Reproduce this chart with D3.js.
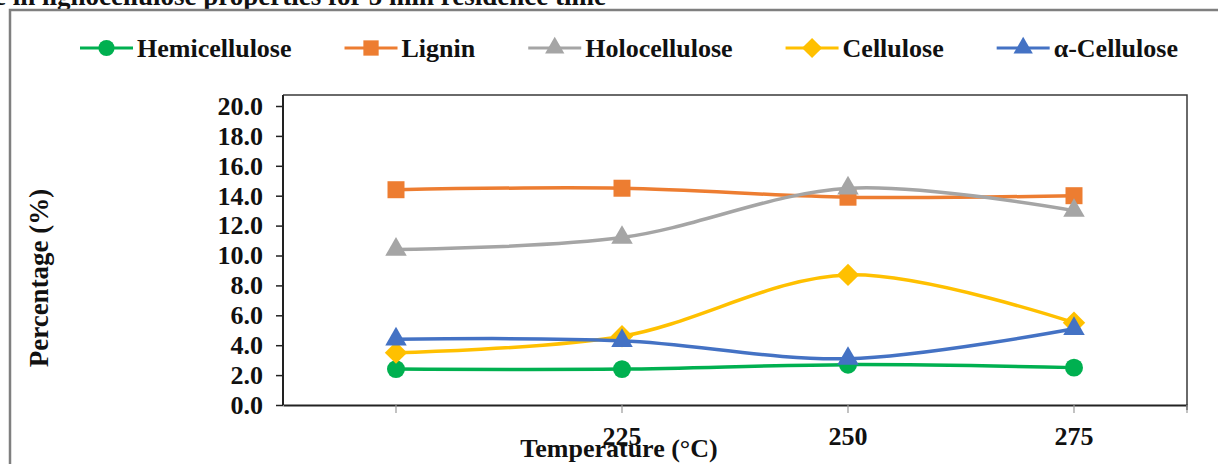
<!DOCTYPE html>
<html>
<head>
<meta charset="utf-8">
<script src="https://cdn.jsdelivr.net/npm/d3@7"></script>
<style>
  body { margin: 0; background: #fff; }
  svg { display: block; }
  text { font-family: "Times New Roman", "Liberation Serif", serif; font-weight: bold; fill: #111; }
</style>
</head>
<body>
<div id="vis1"></div>
<script>
// frame dimensions
const FRAME_WIDTH = 1218;
const FRAME_HEIGHT = 464;

// plot area edges
const PLOT = {left: 283, right: 1187, top: 95, bottom: 405, yTop: 106};

// data
const temperatures = ["200", "225", "250", "275"];
const tickLabels = ["", "225", "250", "275"];
const yTicks = [0, 2, 4, 6, 8, 10, 12, 14, 16, 18, 20];

const hemicellulose = [2.4, 2.4, 2.7, 2.5];
const lignin = [14.4, 14.5, 13.9, 14.0];
const holocellulose = [10.4, 11.2, 14.5, 13.0];
const cellulose = [3.5, 4.6, 8.7, 5.5];
const alphaCellulose = [4.4, 4.3, 3.1, 5.1];

const seriesNames = ["Hemicellulose", "Lignin", "Holocellulose", "Cellulose", "α-Cellulose"];
const seriesValues = [hemicellulose, lignin, holocellulose, cellulose, alphaCellulose];
const seriesColors = ["#00b050", "#ed7d31", "#a5a5a5", "#ffc000", "#4472c4"];
const seriesShapes = ["circle", "square", "triangle", "diamond", "triangle"];

const series = seriesNames.map((name, i) => ({
  name: name, values: seriesValues[i], color: seriesColors[i], shape: seriesShapes[i]
}));

const FRAME1 = d3.select("#vis1")
  .append("svg")
    .attr("width", FRAME_WIDTH)
    .attr("height", FRAME_HEIGHT);

// cut-off title at the very top
FRAME1.append("text")
  .attr("x", 606)
  .attr("y", 5)
  .attr("text-anchor", "end")
  .attr("font-size", "27px")
  .text("Change in lignocellulose properties for 5 min residence time");

// outer chart border
FRAME1.append("rect")
  .attr("x", 10).attr("y", 10)
  .attr("width", FRAME_WIDTH + 20).attr("height", FRAME_HEIGHT + 20)
  .attr("fill", "none")
  .attr("stroke", "#7f7f7f")
  .attr("stroke-width", 2.5);

// scales
const X_SCALE = d3.scaleBand()
  .domain(temperatures)
  .range([PLOT.left, PLOT.right]);

const Y_SCALE = d3.scaleLinear()
  .domain([0, 20])
  .range([PLOT.bottom, PLOT.yTop]);

const xc = (d) => X_SCALE(d) + X_SCALE.bandwidth() / 2;

// plot area frame (top and right)
FRAME1.append("path")
  .attr("d", "M" + PLOT.left + "," + PLOT.top + "H" + PLOT.right + "V" + (PLOT.bottom + 5))
  .attr("fill", "none")
  .attr("stroke", "#3a3a3a")
  .attr("stroke-width", 1.5);

// y axis
const yAxis = FRAME1.append("g")
  .attr("transform", "translate(" + PLOT.left + ",0)")
  .call(d3.axisLeft(Y_SCALE).tickValues(yTicks).tickFormat(d3.format(".1f"))
        .tickSize(7).tickSizeOuter(0).tickPadding(13));
yAxis.select(".domain").attr("stroke", "#222").attr("stroke-width", 2)
  .attr("d", "M0," + PLOT.bottom + "V" + PLOT.top);
yAxis.selectAll(".tick line").attr("stroke", "#222").attr("stroke-width", 1.5);
yAxis.selectAll("text")
  .attr("font-size", "26px")
  .attr("font-family", "'Times New Roman', 'Liberation Serif', serif")
  .attr("font-weight", "bold")
  .attr("fill", "#111");

// x axis
const xAxis = FRAME1.append("g")
  .attr("transform", "translate(0," + PLOT.bottom + ")")
  .call(d3.axisBottom(X_SCALE).tickFormat((d, i) => tickLabels[i])
        .tickSize(8).tickSizeOuter(0).tickPadding(14));
xAxis.select(".domain").attr("stroke", "#222").attr("stroke-width", 2);
xAxis.selectAll(".tick line").attr("stroke", "#9a9a9a").attr("stroke-width", 1.2);
xAxis.selectAll("text")
  .attr("font-size", "26px")
  .attr("font-family", "'Times New Roman', 'Liberation Serif', serif")
  .attr("font-weight", "bold")
  .attr("fill", "#111");
// extra tick at the right end of the category axis
xAxis.append("line")
  .attr("x1", X_SCALE.range()[1]).attr("x2", X_SCALE.range()[1])
  .attr("y1", 0).attr("y2", 8)
  .attr("stroke", "#9a9a9a").attr("stroke-width", 1.2);

// axis titles
FRAME1.append("text")
  .attr("transform", "translate(48,278) rotate(-90)")
  .attr("text-anchor", "middle")
  .attr("font-size", "27px")
  .text("Percentage (%)");

FRAME1.append("text")
  .attr("x", 619)
  .attr("y", 457)
  .attr("text-anchor", "middle")
  .attr("font-size", "26px")
  .text("Temperature (°C)");

// marker shapes
function markerPath(shape) {
  if (shape === "circle") return d3.symbol(d3.symbolCircle, 254)();
  if (shape === "square") return d3.symbol(d3.symbolSquare, 289)();
  if (shape === "triangle") return d3.symbol(d3.symbolTriangle, 200)();
  return d3.symbol(d3.symbolSquare, 250)();
}
function markerRotate(shape) {
  return shape === "diamond" ? " rotate(45)" : "";
}

const line = d3.line()
  .x((d, i) => xc(temperatures[i]))
  .y((d) => Y_SCALE(d))
  .curve(d3.curveCatmullRom.alpha(0.5));

// lines and markers
const groups = FRAME1.selectAll(".series")
  .data(series)
  .enter()
  .append("g")
    .attr("class", "series");

groups.append("path")
  .attr("d", (s) => line(s.values))
  .attr("fill", "none")
  .attr("stroke", (s) => s.color)
  .attr("stroke-width", 3.5);

groups.each(function(s) {
  d3.select(this).selectAll(".pt")
    .data(s.values)
    .enter()
    .append("path")
      .attr("class", "pt")
      .attr("d", markerPath(s.shape))
      .attr("transform", (d, i) => "translate(" + xc(temperatures[i]) + "," + Y_SCALE(d) + ")" + markerRotate(s.shape))
      .attr("fill", s.color);
});

// legend
const legend = FRAME1.append("g").attr("transform", "translate(80,48)");
let lx = 0;
series.forEach((s) => {
  const item = legend.append("g").attr("transform", "translate(" + lx + ",0)");
  item.append("line")
    .attr("x1", 0).attr("x2", 53)
    .attr("stroke", s.color).attr("stroke-width", 3);
  item.append("path")
    .attr("d", markerPath(s.shape))
    .attr("transform", "translate(26.5,0)" + markerRotate(s.shape) + " scale(0.9)")
    .attr("fill", s.color);
  const t = item.append("text")
    .attr("x", 57)
    .attr("dy", "0.35em")
    .attr("font-size", "26px")
    .text(s.name);
  lx += 57 + t.node().getComputedTextLength() + 53;
});
</script>
</body>
</html>
